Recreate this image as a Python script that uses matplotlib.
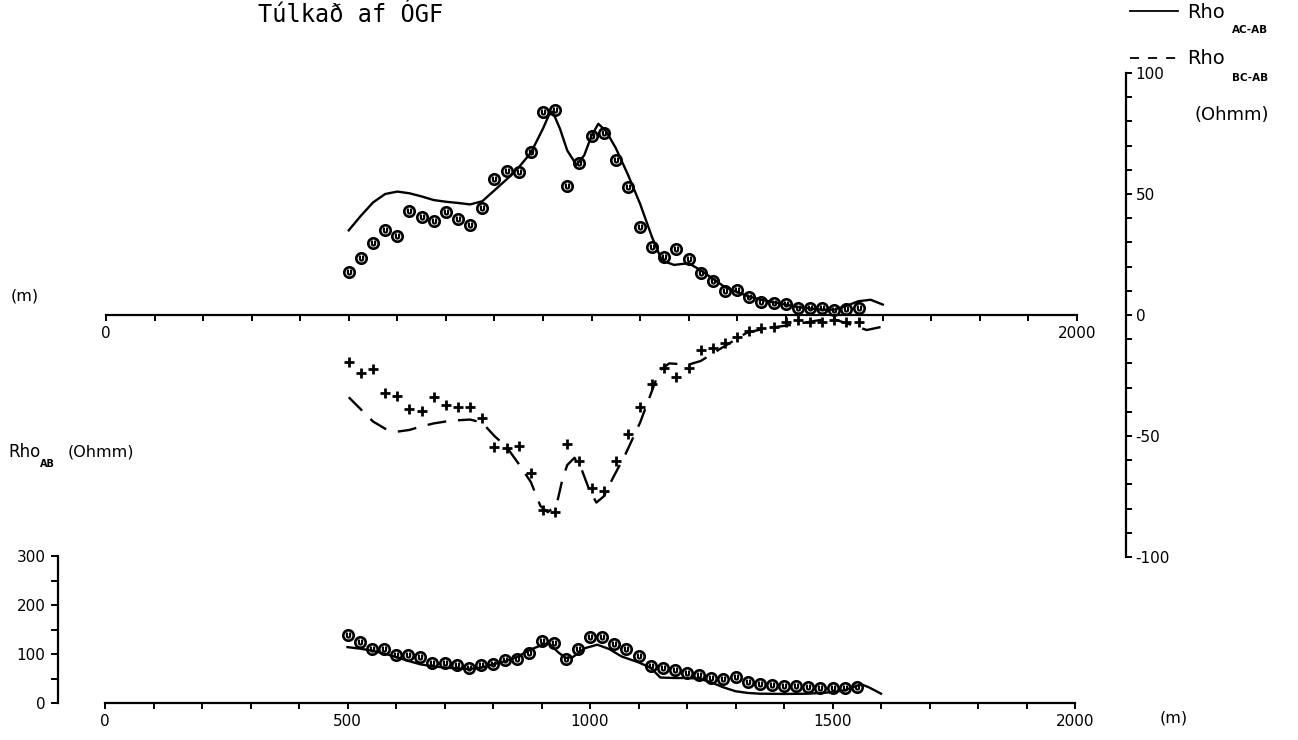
import matplotlib
matplotlib.use('Agg')
import matplotlib.pyplot as plt

# ---- data ----
# measured points, 25 m spacing
x_meas = [500 + 25*i for i in range(43)]

rho_ac = [17.6, 23.7, 29.9, 35.1, 32.8, 43, 40.4, 39, 42.4, 39.5, 37.2, 44.1,
          56.2, 59.5, 59, 67.2, 84, 84.7, 53.4, 62.9, 74.1, 75.1, 64, 53,
          36.2, 28.2, 23.8, 27.1, 23.1, 17.5, 13.9, 10, 10.3, 7.6, 5.5, 4.8,
          4.5, 2.7, 3, 2.7, 2, 2.4, 2.7]

rho_bc = [-19.3, -24.1, -22.3, -32.4, -33.5, -39, -39.5, -33.8, -37.2, -38.2,
          -38.2, -42.7, -54.4, -55.1, -54, -65.4, -80.6, -81.3, -53.3, -60.2,
          -71.6, -72.6, -60.3, -49.3, -37.9, -28.5, -22, -25.5, -22, -14.5,
          -13.8, -11.4, -9.2, -6.7, -5.5, -4.8, -2.8, -2.1, -2.8, -2.8, -2.1,
          -2.8, -2.8]

rho_ab = [139.5, 124.5, 109.5, 111, 97.3, 98, 94, 81, 81, 78, 72, 78, 79,
          88, 89, 102.5, 127, 122, 89.5, 110.5, 135, 134.5, 119.5, 109.5, 96,
          76, 72, 67, 62, 57, 51, 49.7, 53, 43, 39.5, 36, 34.7, 34.7, 32.7,
          31.3, 31.3, 30, 33]

# model curves
x_mod_ac = [500, 525, 550, 575, 600, 625, 650, 675, 700, 725, 750, 775, 800,
            825, 850, 875, 900, 912, 920, 935, 950, 969, 985, 1000, 1014, 1030,
            1050, 1075, 1100, 1125, 1145, 1170, 1200, 1225, 1250, 1275, 1300,
            1325, 1350, 1375, 1400, 1425, 1450, 1475, 1500, 1525, 1550, 1575,
            1600]
mod_ac = [35, 41, 46.5, 50, 51, 50.3, 49, 47.5, 46.8, 46.3, 45.7, 47, 51.5,
          56, 61, 67, 77, 82.5, 84, 77, 68, 62, 66, 74, 79, 76, 69, 58, 46,
          32, 22.5, 20.7, 21.4, 18.5, 15, 11.5, 9.5, 7.6, 6.3, 5.3, 4.3, 3.3,
          2.7, 2.2, 2.2, 3.8, 5.7, 6.3, 4.3]

x_mod_bc = [500, 525, 550, 575, 600, 625, 650, 675, 700, 725, 750, 775, 800,
            825, 850, 875, 895, 910, 928, 940, 950, 965, 980, 995, 1010, 1025,
            1045, 1070, 1100, 1120, 1140, 1160, 1200, 1225, 1265, 1320, 1360,
            1415, 1470, 1500, 1525, 1567, 1600]
mod_bc = [-34, -39, -44, -47, -48.2, -47.5, -46, -44.8, -44, -43.5, -43.2,
          -44.5, -50, -54.5, -61.5, -69, -79, -81.5, -78.5, -68, -62, -59,
          -64, -72, -77.5, -75, -67, -57.5, -44.5, -33.8, -23, -20, -20.5,
          -19, -14, -7.3, -5.5, -4, -2.1, -1.8, -3.4, -6.2, -4.8]

x_mod_ab = [500, 525, 550, 575, 600, 625, 650, 675, 700, 725, 750, 775, 800,
            825, 850, 875, 900, 915, 935, 950, 965, 990, 1015, 1040, 1065,
            1100, 1125, 1145, 1175, 1200, 1225, 1250, 1275, 1300, 1325, 1350,
            1400, 1450, 1500, 1525, 1550, 1560, 1575, 1600]
mod_ab = [114, 111, 107, 101, 94, 86, 79, 75, 72.5, 70.5, 69.5, 72, 79, 85,
          94, 108, 118, 122, 103, 92, 94, 112, 119, 110, 95, 83, 72, 52, 51,
          51, 50, 42, 32, 24, 20.5, 19, 18.5, 19, 22, 26, 35, 38, 32, 19]

W, H = 1298, 740
fig = plt.figure(figsize=(W/100, H/100), dpi=100)
fig.patch.set_facecolor('white')

def fx(px):
    return px / W

def fy(py):
    return 1 - py / H

circ = dict(marker='o', ms=7.5, mfc='none', mec='black', mew=1.9, ls='none')
inner = dict(marker=r'$\cup$', ms=3.5, color='black', ls='none')
tfont = 11

# ---- upper panel: Rho_AC-AB and Rho_BC-AB ----
ax1 = fig.add_axes([fx(106), fy(557), (1077-106)/W, (557-73)/H])
ax1.set_xlim(0, 2000)
ax1.set_ylim(-100, 100)
ax1.set_facecolor('none')
ax1.plot(x_mod_ac, mod_ac, color='black', lw=1.7)
ax1.plot(x_mod_bc, mod_bc, color='black', lw=1.7, dashes=(8, 5))
ax1.plot(x_meas, rho_ac, **circ)
ax1.plot(x_meas, rho_ac, **inner)
ax1.plot(x_meas, rho_bc, marker='+', ms=7, mew=2, color='black', ls='none')

ax1.spines['top'].set_visible(False)
ax1.spines['left'].set_visible(False)
ax1.spines['bottom'].set_position(('data', 0))
ax1.spines['bottom'].set_linewidth(1.6)
ax1.spines['right'].set_position(('axes', (1126-106)/(1077-106)))
ax1.spines['right'].set_linewidth(1.6)
ax1.set_xticks(range(0, 2001, 100))
ax1.set_xticklabels(['0' if t == 0 else ('2000' if t == 2000 else '')
                     for t in range(0, 2001, 100)])
ax1.yaxis.tick_right()
ax1.set_yticks([-100, -50, 0, 50, 100])
ax1.set_yticklabels(['-100', '-50', '0', '50', '100'])
ax1.set_yticks(range(-100, 101, 10), minor=True)
ax1.tick_params(axis='x', direction='out', length=4, width=1.4,
                labelsize=tfont, pad=4)
ax1.tick_params(axis='y', which='both', direction='out', length=4, width=1.4,
                labelsize=tfont, pad=3)

# ---- lower panel: Rho_AB ----
ax2 = fig.add_axes([fx(105), fy(703), (1075-105)/W, (703-556)/H])
ax2.set_xlim(0, 2000)
ax2.set_ylim(0, 300)
ax2.set_facecolor('none')
ax2.plot(x_mod_ab, mod_ab, color='black', lw=1.7)
ax2.plot(x_meas, rho_ab, **circ)
ax2.plot(x_meas, rho_ab, **inner)
ax2.spines['top'].set_visible(False)
ax2.spines['right'].set_visible(False)
ax2.spines['left'].set_position(('axes', (58-105)/(1075-105)))
ax2.spines['left'].set_linewidth(1.6)
ax2.spines['bottom'].set_linewidth(1.6)
ax2.set_xticks(range(0, 2001, 100))
ax2.set_xticklabels([str(t) if t % 500 == 0 else '' for t in range(0, 2001, 100)])
ax2.set_yticks([0, 100, 200, 300])
ax2.set_yticks([50, 150, 250], minor=True)
ax2.tick_params(axis='x', direction='out', length=4, width=1.4,
                labelsize=tfont, pad=4)
ax2.tick_params(axis='y', which='both', direction='out', length=5, width=1.4,
                labelsize=tfont, pad=4)

# ---- texts ----
fig.text(fx(258), fy(15), 'Túlkað af ÓGF', family='DejaVu Sans Mono',
         fontsize=17, va='center', ha='left')
fig.text(fx(11), fy(296), '(m)', fontsize=11.5, va='center')
fig.text(fx(8), fy(452), 'Rho', fontsize=12, va='center')
fig.text(fx(40), fy(464), 'AB', fontsize=7, va='center', weight='bold')
fig.text(fx(68), fy(452), '(Ohmm)', fontsize=11.5, va='center')
fig.text(fx(1160), fy(718), '(m)', fontsize=11.5, va='center')

# legend, top right
fig.add_artist(plt.Line2D([fx(1130), fx(1178)], [fy(11), fy(11)],
                          color='black', lw=1.3))
fig.add_artist(plt.Line2D([fx(1130), fx(1180)], [fy(58), fy(58)],
                          color='black', lw=1.3, dashes=(5, 5)))
fig.text(fx(1187), fy(12), 'Rho', fontsize=14, va='center')
fig.text(fx(1232), fy(30), 'AC-AB', fontsize=7.5, va='center', weight='bold')
fig.text(fx(1187), fy(59), 'Rho', fontsize=14, va='center')
fig.text(fx(1232), fy(78), 'BC-AB', fontsize=7.5, va='center', weight='bold')
fig.text(fx(1194), fy(115), '(Ohmm)', fontsize=13, va='center')

fig.savefig('out.png', dpi=100)
